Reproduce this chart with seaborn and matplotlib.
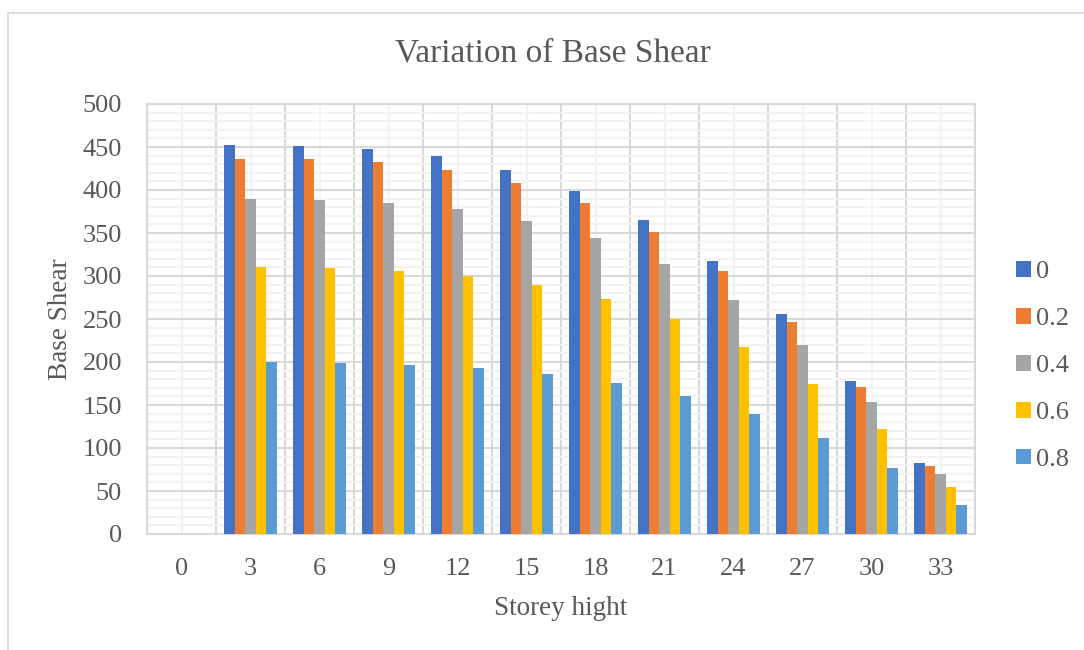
import numpy as np
import pandas as pd
import matplotlib
matplotlib.use("Agg")
import matplotlib.pyplot as plt
from matplotlib.lines import Line2D
import seaborn as sns
from matplotlib.ticker import MultipleLocator

# ---- data ----
storey = ["0", "3", "6", "9", "12", "15", "18", "21", "24", "27", "30", "33"]
series_names = ["0", "0.2", "0.4", "0.6", "0.8"]
s_0 = [0, 452, 451, 448, 439, 423, 399, 365, 317, 256, 178, 82]
s_02 = [0, 436, 436, 432, 423, 408, 385, 351, 306, 247, 171, 79]
s_04 = [0, 389, 388, 385, 378, 364, 344, 314, 272, 220, 153, 70]
s_06 = [0, 310, 309, 306, 300, 290, 273, 250, 217, 175, 122, 55]
s_08 = [0, 200, 199, 197, 193, 186, 176, 160, 139, 112, 77, 34]
colors = ["#4472C4", "#ED7D31", "#A5A5A5", "#FFC000", "#5B9BD5"]

rows = []
for name, vals in zip(series_names, [s_0, s_02, s_04, s_06, s_08]):
    for st, v in zip(storey, vals):
        rows.append({"Storey": st, "Series": name, "Value": v})
df = pd.DataFrame(rows)

sns.set_style("white")
plt.rcParams["font.family"] = ["Liberation Serif", "DejaVu Serif"]
txt = "#595959"

fig = plt.figure(figsize=(10.84, 6.5), dpi=100)
ax = fig.add_axes([147 / 1084, 1 - 534 / 650, (975 - 147) / 1084, (534 - 104) / 650])

sns.barplot(data=df, x="Storey", y="Value", hue="Series", order=storey,
            hue_order=series_names, palette=colors, width=0.77,
            saturation=1, linewidth=0, ax=ax, legend=True, zorder=3)

ax.set_ylim(0, 500)
ax.set_xlim(-0.5, len(storey) - 0.5)
ax.yaxis.set_major_locator(MultipleLocator(50))
ax.yaxis.set_minor_locator(MultipleLocator(10))
ax.set_xticks(np.arange(-0.5, len(storey), 1), minor=True)
ax.set_axisbelow(True)
ax.grid(which="major", axis="y", color="#D9D9D9", linewidth=1.5, zorder=0)
ax.grid(which="minor", axis="y", color="#F2F2F2", linewidth=1.5, zorder=0)
ax.grid(which="major", axis="x", color="#F2F2F2", linewidth=1.5, zorder=0)
ax.grid(which="minor", axis="x", color="#D9D9D9", linewidth=1.5, zorder=0)
ax.tick_params(which="both", length=0)
ax.tick_params(axis="y", labelsize=19, labelcolor=txt, pad=18)
ax.tick_params(axis="x", labelsize=19, labelcolor=txt, pad=17.5)
for sp in ax.spines.values():
    sp.set_color("#D9D9D9")
    sp.set_linewidth(1.5)

ax.set_xlabel("Storey hight", fontsize=19.5, color=txt, labelpad=11)
ax.set_ylabel("Base Shear", fontsize=19.5, color=txt, labelpad=7)

fig.text(553 / 1084, 1 - 53 / 650, "Variation of Base Shear", fontsize=24,
         color=txt, ha="center", va="center")

handles, labels = ax.get_legend_handles_labels()
ax.get_legend().remove()
fig.legend(handles, labels, loc="center left", bbox_to_anchor=(1016 / 1084, 1 - 366 / 650),
           frameon=False, fontsize=19, labelcolor=txt, handlelength=0.55,
           handleheight=0.55, handletextpad=0.2, labelspacing=0.93, borderpad=0,
           borderaxespad=0)

# outer chart border (top and left visible)
fig.add_artist(Line2D([8 / 1084, 1.0], [1 - 13 / 650, 1 - 13 / 650],
                      transform=fig.transFigure, color="#D9D9D9", linewidth=1.2))
fig.add_artist(Line2D([8 / 1084, 8 / 1084], [0.0, 1 - 13 / 650],
                      transform=fig.transFigure, color="#D9D9D9", linewidth=1.2))

fig.savefig("out.png", dpi=100)
